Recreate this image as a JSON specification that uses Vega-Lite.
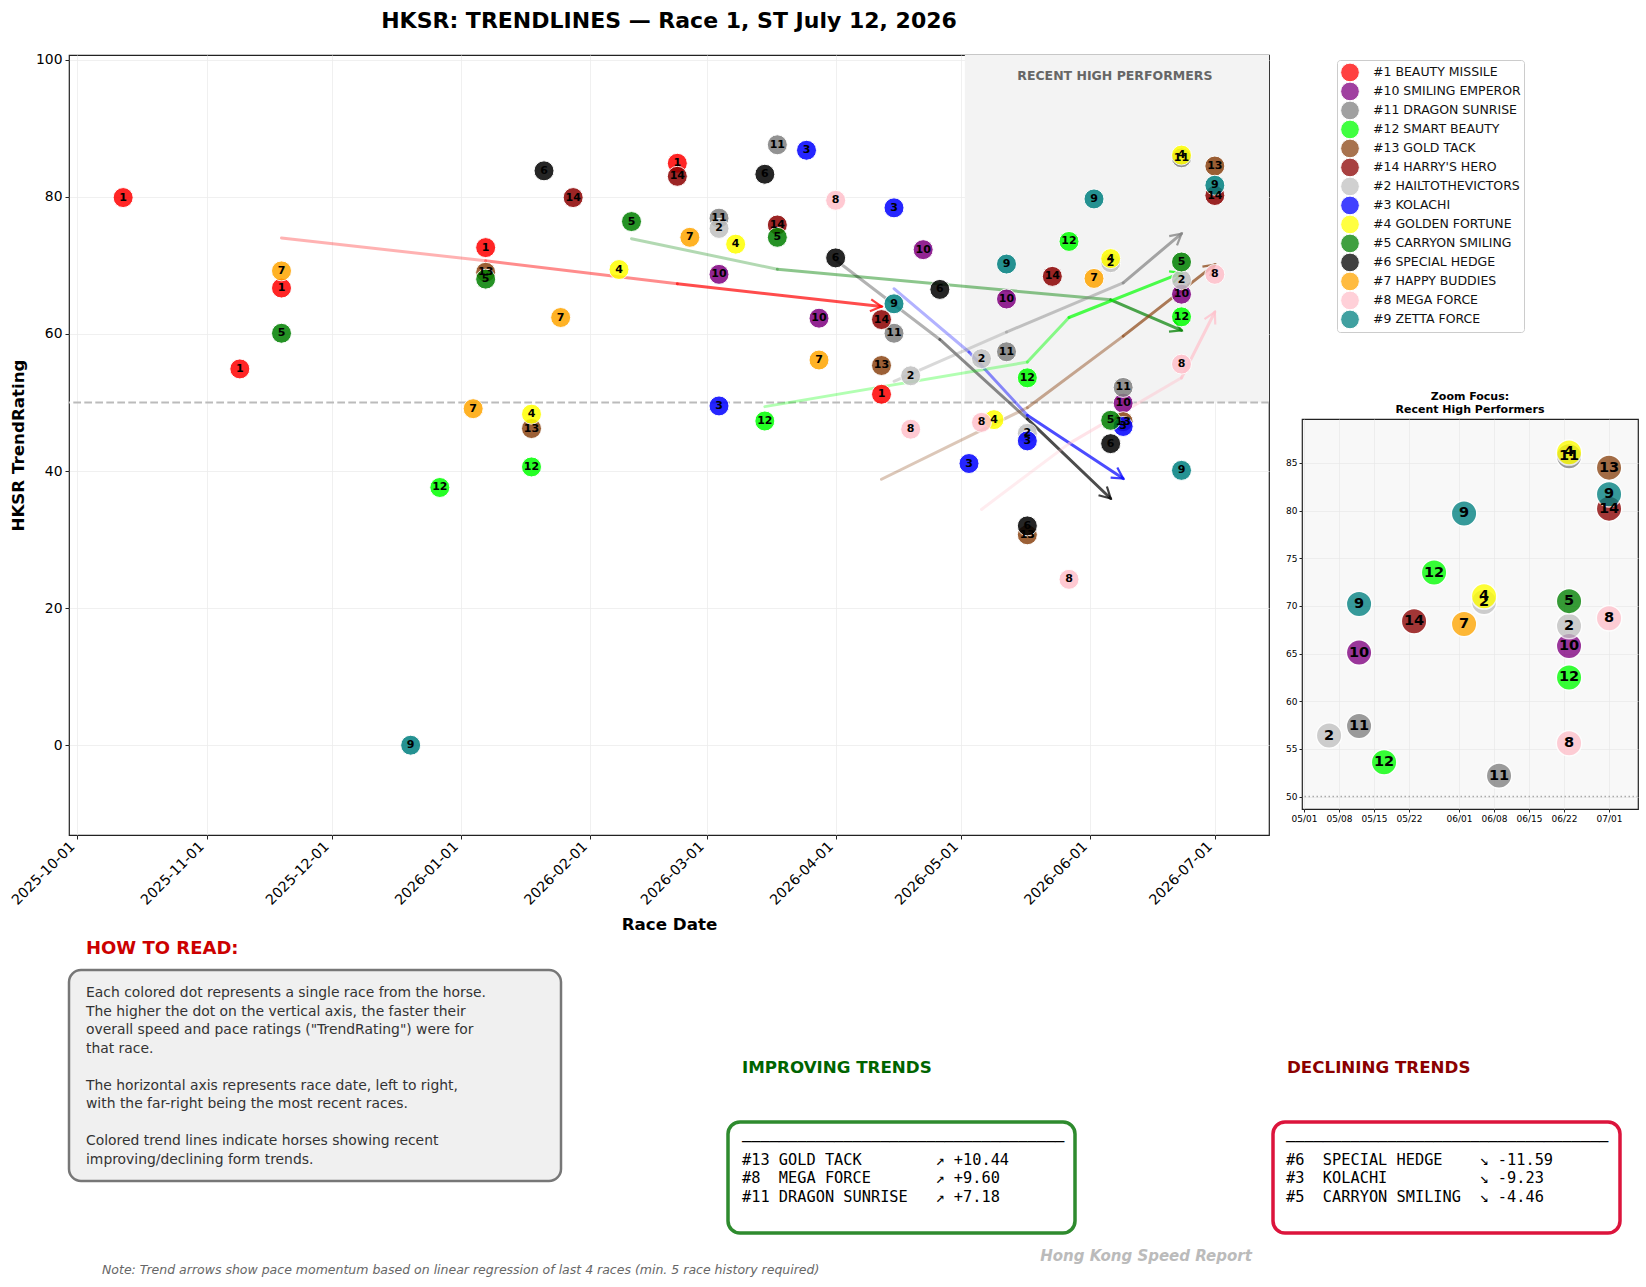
{
  "$schema": "https://vega.github.io/schema/vega-lite/v6.json",
  "background": "white",
  "padding": {"left": 8, "top": 9, "right": 0, "bottom": 0},
  "config": {
    "font": "DejaVu Sans",
    "view": {"stroke": null},
    "axis": {"labelColor": "#000", "tickColor": "#222", "domain": false, "titleColor": "#000"},
    "title": {"color": "#000"}
  },
  "datasets": {
    "races": [
      {"horse": "#1 BEAUTY MISSILE", "num": "1", "date": "2025-10-12", "rating": 79.9},
      {"horse": "#1 BEAUTY MISSILE", "num": "1", "date": "2025-11-09", "rating": 54.9},
      {"horse": "#1 BEAUTY MISSILE", "num": "1", "date": "2025-11-19", "rating": 66.7},
      {"horse": "#1 BEAUTY MISSILE", "num": "1", "date": "2026-01-07", "rating": 72.6},
      {"horse": "#1 BEAUTY MISSILE", "num": "1", "date": "2026-02-22", "rating": 84.9},
      {"horse": "#1 BEAUTY MISSILE", "num": "1", "date": "2026-04-12", "rating": 51.2},
      {"horse": "#10 SMILING EMPEROR", "num": "10", "date": "2026-03-04", "rating": 68.7},
      {"horse": "#10 SMILING EMPEROR", "num": "10", "date": "2026-03-28", "rating": 62.3},
      {"horse": "#10 SMILING EMPEROR", "num": "10", "date": "2026-04-22", "rating": 72.3},
      {"horse": "#10 SMILING EMPEROR", "num": "10", "date": "2026-05-12", "rating": 65.1},
      {"horse": "#10 SMILING EMPEROR", "num": "10", "date": "2026-06-09", "rating": 49.9},
      {"horse": "#10 SMILING EMPEROR", "num": "10", "date": "2026-06-23", "rating": 65.8},
      {"horse": "#11 DRAGON SUNRISE", "num": "11", "date": "2026-03-04", "rating": 76.9},
      {"horse": "#11 DRAGON SUNRISE", "num": "11", "date": "2026-03-18", "rating": 87.6},
      {"horse": "#11 DRAGON SUNRISE", "num": "11", "date": "2026-04-15", "rating": 60.1},
      {"horse": "#11 DRAGON SUNRISE", "num": "11", "date": "2026-05-12", "rating": 57.4},
      {"horse": "#11 DRAGON SUNRISE", "num": "11", "date": "2026-06-09", "rating": 52.2},
      {"horse": "#11 DRAGON SUNRISE", "num": "11", "date": "2026-06-23", "rating": 85.7},
      {"horse": "#12 SMART BEAUTY", "num": "12", "date": "2025-12-27", "rating": 37.6},
      {"horse": "#12 SMART BEAUTY", "num": "12", "date": "2026-01-18", "rating": 40.6},
      {"horse": "#12 SMART BEAUTY", "num": "12", "date": "2026-03-15", "rating": 47.3},
      {"horse": "#12 SMART BEAUTY", "num": "12", "date": "2026-05-17", "rating": 53.6},
      {"horse": "#12 SMART BEAUTY", "num": "12", "date": "2026-05-27", "rating": 73.5},
      {"horse": "#12 SMART BEAUTY", "num": "12", "date": "2026-06-23", "rating": 62.5},
      {"horse": "#13 GOLD TACK", "num": "13", "date": "2026-01-07", "rating": 69.0},
      {"horse": "#13 GOLD TACK", "num": "13", "date": "2026-01-18", "rating": 46.2},
      {"horse": "#13 GOLD TACK", "num": "13", "date": "2026-04-12", "rating": 55.4},
      {"horse": "#13 GOLD TACK", "num": "13", "date": "2026-05-17", "rating": 30.7},
      {"horse": "#13 GOLD TACK", "num": "13", "date": "2026-06-09", "rating": 47.2},
      {"horse": "#13 GOLD TACK", "num": "13", "date": "2026-07-01", "rating": 84.5},
      {"horse": "#14 HARRY'S HERO", "num": "14", "date": "2026-01-28", "rating": 79.9},
      {"horse": "#14 HARRY'S HERO", "num": "14", "date": "2026-02-22", "rating": 83.0},
      {"horse": "#14 HARRY'S HERO", "num": "14", "date": "2026-03-18", "rating": 75.9},
      {"horse": "#14 HARRY'S HERO", "num": "14", "date": "2026-04-12", "rating": 62.1},
      {"horse": "#14 HARRY'S HERO", "num": "14", "date": "2026-05-23", "rating": 68.4},
      {"horse": "#14 HARRY'S HERO", "num": "14", "date": "2026-07-01", "rating": 80.2},
      {"horse": "#2 HAILTOTHEVICTORS", "num": "2", "date": "2026-03-04", "rating": 75.4},
      {"horse": "#2 HAILTOTHEVICTORS", "num": "2", "date": "2026-04-19", "rating": 53.9},
      {"horse": "#2 HAILTOTHEVICTORS", "num": "2", "date": "2026-05-06", "rating": 56.4},
      {"horse": "#2 HAILTOTHEVICTORS", "num": "2", "date": "2026-05-17", "rating": 45.5},
      {"horse": "#2 HAILTOTHEVICTORS", "num": "2", "date": "2026-06-06", "rating": 70.4},
      {"horse": "#2 HAILTOTHEVICTORS", "num": "2", "date": "2026-06-23", "rating": 67.9},
      {"horse": "#3 KOLACHI", "num": "3", "date": "2026-03-04", "rating": 49.5},
      {"horse": "#3 KOLACHI", "num": "3", "date": "2026-03-25", "rating": 86.8},
      {"horse": "#3 KOLACHI", "num": "3", "date": "2026-04-15", "rating": 78.4},
      {"horse": "#3 KOLACHI", "num": "3", "date": "2026-05-03", "rating": 41.1},
      {"horse": "#3 KOLACHI", "num": "3", "date": "2026-05-17", "rating": 44.4},
      {"horse": "#3 KOLACHI", "num": "3", "date": "2026-06-09", "rating": 46.5},
      {"horse": "#4 GOLDEN FORTUNE", "num": "4", "date": "2026-01-18", "rating": 48.3},
      {"horse": "#4 GOLDEN FORTUNE", "num": "4", "date": "2026-02-08", "rating": 69.4},
      {"horse": "#4 GOLDEN FORTUNE", "num": "4", "date": "2026-03-08", "rating": 73.1},
      {"horse": "#4 GOLDEN FORTUNE", "num": "4", "date": "2026-05-09", "rating": 47.5},
      {"horse": "#4 GOLDEN FORTUNE", "num": "4", "date": "2026-06-06", "rating": 71.0},
      {"horse": "#4 GOLDEN FORTUNE", "num": "4", "date": "2026-06-23", "rating": 86.1},
      {"horse": "#5 CARRYON SMILING", "num": "5", "date": "2025-11-19", "rating": 60.1},
      {"horse": "#5 CARRYON SMILING", "num": "5", "date": "2026-01-07", "rating": 68.0},
      {"horse": "#5 CARRYON SMILING", "num": "5", "date": "2026-02-11", "rating": 76.4},
      {"horse": "#5 CARRYON SMILING", "num": "5", "date": "2026-03-18", "rating": 74.1},
      {"horse": "#5 CARRYON SMILING", "num": "5", "date": "2026-06-06", "rating": 47.4},
      {"horse": "#5 CARRYON SMILING", "num": "5", "date": "2026-06-23", "rating": 70.5},
      {"horse": "#6 SPECIAL HEDGE", "num": "6", "date": "2026-01-21", "rating": 83.8},
      {"horse": "#6 SPECIAL HEDGE", "num": "6", "date": "2026-03-15", "rating": 83.3},
      {"horse": "#6 SPECIAL HEDGE", "num": "6", "date": "2026-04-01", "rating": 71.1},
      {"horse": "#6 SPECIAL HEDGE", "num": "6", "date": "2026-04-26", "rating": 66.5},
      {"horse": "#6 SPECIAL HEDGE", "num": "6", "date": "2026-05-17", "rating": 32.0},
      {"horse": "#6 SPECIAL HEDGE", "num": "6", "date": "2026-06-06", "rating": 44.0},
      {"horse": "#7 HAPPY BUDDIES", "num": "7", "date": "2025-11-19", "rating": 69.2},
      {"horse": "#7 HAPPY BUDDIES", "num": "7", "date": "2026-01-04", "rating": 49.1},
      {"horse": "#7 HAPPY BUDDIES", "num": "7", "date": "2026-01-25", "rating": 62.4},
      {"horse": "#7 HAPPY BUDDIES", "num": "7", "date": "2026-02-25", "rating": 74.1},
      {"horse": "#7 HAPPY BUDDIES", "num": "7", "date": "2026-03-28", "rating": 56.2},
      {"horse": "#7 HAPPY BUDDIES", "num": "7", "date": "2026-06-02", "rating": 68.1},
      {"horse": "#8 MEGA FORCE", "num": "8", "date": "2026-04-01", "rating": 79.5},
      {"horse": "#8 MEGA FORCE", "num": "8", "date": "2026-04-19", "rating": 46.1},
      {"horse": "#8 MEGA FORCE", "num": "8", "date": "2026-05-06", "rating": 47.1},
      {"horse": "#8 MEGA FORCE", "num": "8", "date": "2026-05-27", "rating": 24.2},
      {"horse": "#8 MEGA FORCE", "num": "8", "date": "2026-06-23", "rating": 55.6},
      {"horse": "#8 MEGA FORCE", "num": "8", "date": "2026-07-01", "rating": 68.7},
      {"horse": "#9 ZETTA FORCE", "num": "9", "date": "2025-12-20", "rating": 0.0},
      {"horse": "#9 ZETTA FORCE", "num": "9", "date": "2026-04-15", "rating": 64.4},
      {"horse": "#9 ZETTA FORCE", "num": "9", "date": "2026-05-12", "rating": 70.2},
      {"horse": "#9 ZETTA FORCE", "num": "9", "date": "2026-06-02", "rating": 79.7},
      {"horse": "#9 ZETTA FORCE", "num": "9", "date": "2026-06-23", "rating": 40.1},
      {"horse": "#9 ZETTA FORCE", "num": "9", "date": "2026-07-01", "rating": 81.7}
    ],
    "trends": [
      {"horse": "#1 BEAUTY MISSILE", "seg": 1, "date": "2025-11-19", "rating": 74.0},
      {"horse": "#1 BEAUTY MISSILE", "seg": 1, "date": "2026-01-07", "rating": 70.67},
      {"horse": "#1 BEAUTY MISSILE", "seg": 2, "date": "2026-01-07", "rating": 70.67},
      {"horse": "#1 BEAUTY MISSILE", "seg": 2, "date": "2026-02-22", "rating": 67.33},
      {"horse": "#1 BEAUTY MISSILE", "seg": 3, "date": "2026-02-22", "rating": 67.33},
      {"horse": "#1 BEAUTY MISSILE", "seg": 3, "date": "2026-04-12", "rating": 64.0},
      {"horse": "#5 CARRYON SMILING", "seg": 1, "date": "2026-02-11", "rating": 73.9},
      {"horse": "#5 CARRYON SMILING", "seg": 1, "date": "2026-03-18", "rating": 69.44},
      {"horse": "#5 CARRYON SMILING", "seg": 2, "date": "2026-03-18", "rating": 69.44},
      {"horse": "#5 CARRYON SMILING", "seg": 2, "date": "2026-06-06", "rating": 64.98},
      {"horse": "#5 CARRYON SMILING", "seg": 3, "date": "2026-06-06", "rating": 64.98},
      {"horse": "#5 CARRYON SMILING", "seg": 3, "date": "2026-06-23", "rating": 60.52},
      {"horse": "#6 SPECIAL HEDGE", "seg": 1, "date": "2026-04-01", "rating": 70.8},
      {"horse": "#6 SPECIAL HEDGE", "seg": 1, "date": "2026-04-26", "rating": 59.2},
      {"horse": "#6 SPECIAL HEDGE", "seg": 2, "date": "2026-04-26", "rating": 59.2},
      {"horse": "#6 SPECIAL HEDGE", "seg": 2, "date": "2026-05-17", "rating": 47.6},
      {"horse": "#6 SPECIAL HEDGE", "seg": 3, "date": "2026-05-17", "rating": 47.6},
      {"horse": "#6 SPECIAL HEDGE", "seg": 3, "date": "2026-06-06", "rating": 36.0},
      {"horse": "#3 KOLACHI", "seg": 1, "date": "2026-04-15", "rating": 66.6},
      {"horse": "#3 KOLACHI", "seg": 1, "date": "2026-05-03", "rating": 57.37},
      {"horse": "#3 KOLACHI", "seg": 2, "date": "2026-05-03", "rating": 57.37},
      {"horse": "#3 KOLACHI", "seg": 2, "date": "2026-05-17", "rating": 48.14},
      {"horse": "#3 KOLACHI", "seg": 3, "date": "2026-05-17", "rating": 48.14},
      {"horse": "#3 KOLACHI", "seg": 3, "date": "2026-06-09", "rating": 38.9},
      {"horse": "#11 DRAGON SUNRISE", "seg": 1, "date": "2026-04-15", "rating": 53.1},
      {"horse": "#11 DRAGON SUNRISE", "seg": 1, "date": "2026-05-12", "rating": 60.28},
      {"horse": "#11 DRAGON SUNRISE", "seg": 2, "date": "2026-05-12", "rating": 60.28},
      {"horse": "#11 DRAGON SUNRISE", "seg": 2, "date": "2026-06-09", "rating": 67.46},
      {"horse": "#11 DRAGON SUNRISE", "seg": 3, "date": "2026-06-09", "rating": 67.46},
      {"horse": "#11 DRAGON SUNRISE", "seg": 3, "date": "2026-06-23", "rating": 74.64},
      {"horse": "#12 SMART BEAUTY", "seg": 1, "date": "2026-03-15", "rating": 49.4},
      {"horse": "#12 SMART BEAUTY", "seg": 1, "date": "2026-05-17", "rating": 55.9},
      {"horse": "#12 SMART BEAUTY", "seg": 2, "date": "2026-05-17", "rating": 55.9},
      {"horse": "#12 SMART BEAUTY", "seg": 2, "date": "2026-05-27", "rating": 62.4},
      {"horse": "#12 SMART BEAUTY", "seg": 3, "date": "2026-05-27", "rating": 62.4},
      {"horse": "#12 SMART BEAUTY", "seg": 3, "date": "2026-06-23", "rating": 68.9},
      {"horse": "#13 GOLD TACK", "seg": 1, "date": "2026-04-12", "rating": 38.8},
      {"horse": "#13 GOLD TACK", "seg": 1, "date": "2026-05-17", "rating": 49.24},
      {"horse": "#13 GOLD TACK", "seg": 2, "date": "2026-05-17", "rating": 49.24},
      {"horse": "#13 GOLD TACK", "seg": 2, "date": "2026-06-09", "rating": 59.68},
      {"horse": "#13 GOLD TACK", "seg": 3, "date": "2026-06-09", "rating": 59.68},
      {"horse": "#13 GOLD TACK", "seg": 3, "date": "2026-07-01", "rating": 70.12},
      {"horse": "#8 MEGA FORCE", "seg": 1, "date": "2026-05-06", "rating": 34.4},
      {"horse": "#8 MEGA FORCE", "seg": 1, "date": "2026-05-27", "rating": 44.0},
      {"horse": "#8 MEGA FORCE", "seg": 2, "date": "2026-05-27", "rating": 44.0},
      {"horse": "#8 MEGA FORCE", "seg": 2, "date": "2026-06-23", "rating": 53.6},
      {"horse": "#8 MEGA FORCE", "seg": 3, "date": "2026-06-23", "rating": 53.6},
      {"horse": "#8 MEGA FORCE", "seg": 3, "date": "2026-07-01", "rating": 63.2}
    ],
    "tips": [
      {"horse": "#1 BEAUTY MISSILE", "date": "2026-04-12", "rating": 64.0},
      {"horse": "#5 CARRYON SMILING", "date": "2026-06-23", "rating": 60.52},
      {"horse": "#6 SPECIAL HEDGE", "date": "2026-06-06", "rating": 36.0},
      {"horse": "#3 KOLACHI", "date": "2026-06-09", "rating": 38.9},
      {"horse": "#11 DRAGON SUNRISE", "date": "2026-06-23", "rating": 74.64},
      {"horse": "#12 SMART BEAUTY", "date": "2026-06-23", "rating": 68.9},
      {"horse": "#13 GOLD TACK", "date": "2026-07-01", "rating": 70.12},
      {"horse": "#8 MEGA FORCE", "date": "2026-07-01", "rating": 63.2}
    ]
  },
  "bounds": "flush",
  "spacing": 915,
  "resolve": {"scale": {"color": "independent"}, "legend": {"color": "independent"}},
  "vconcat": [
    {
      "bounds": "flush",
      "spacing": 33,
      "resolve": {"scale": {"color": "independent"}, "legend": {"color": "independent"}},
      "hconcat": [
        {
          "width": 1200,
          "height": 780,
          "title": {"text": "HKSR: TRENDLINES — Race 1, ST July 12, 2026", "fontSize": 22, "fontWeight": "bold", "anchor": "middle", "frame": "group", "offset": 20},
          "view": {"stroke": "#222", "strokeWidth": 1.2},
          "layer": [
            {
              "data": {"values": [{}]},
              "mark": {"type": "rect", "color": "#f3f3f3"},
              "encoding": {
                "x": {"datum": {"year": 2026, "month": 5, "date": 2, "utc": true}, "type": "temporal"},
                "x2": {"datum": {"year": 2026, "month": 7, "date": 14, "utc": true}},
                "y": {"datum": 50, "type": "quantitative"},
                "y2": {"datum": 100.7}
              }
            },
            {
              "data": {"values": [{}]},
              "mark": {"type": "text", "text": "RECENT HIGH PERFORMERS", "fontSize": 12.5, "fontWeight": "bold", "color": "#666666", "align": "center", "baseline": "middle"},
              "encoding": {
                "x": {"datum": {"year": 2026, "month": 6, "date": 7, "utc": true}, "type": "temporal"},
                "y": {"datum": 97.6, "type": "quantitative"}
              }
            },
            {
              "data": {"values": [{}]},
              "mark": {"type": "rule", "color": "#bbbbbb", "strokeDash": [7.7, 3.3], "strokeWidth": 1.8},
              "encoding": {"y": {"datum": 50, "type": "quantitative"}}
            },
            {
              "data": {"name": "trends"},
              "mark": {"type": "line", "strokeWidth": 3, "strokeCap": "round"},
              "encoding": {
                "x": {"field": "date", "type": "temporal"},
                "y": {"field": "rating", "type": "quantitative"},
                "stroke": {"field": "horse", "type": "nominal", "legend": null,
                  "scale": {
                    "domain": ["#1 BEAUTY MISSILE", "#10 SMILING EMPEROR", "#11 DRAGON SUNRISE", "#12 SMART BEAUTY", "#13 GOLD TACK", "#14 HARRY'S HERO", "#2 HAILTOTHEVICTORS", "#3 KOLACHI", "#4 GOLDEN FORTUNE", "#5 CARRYON SMILING", "#6 SPECIAL HEDGE", "#7 HAPPY BUDDIES", "#8 MEGA FORCE", "#9 ZETTA FORCE"],
                    "range": ["#ff0000", "#800080", "#808080", "#00ff00", "#8b4513", "#8b0000", "#c0c0c0", "#0000ff", "#ffff00", "#008000", "#000000", "#ffa500", "#ffc0cb", "#008080"]
                  }
                },
                "detail": {"field": "seg", "type": "nominal"},
                "opacity": {"field": "seg", "type": "ordinal", "scale": {"type": "ordinal", "domain": [1, 2, 3], "range": [0.3, 0.45, 0.7]}, "legend": null}
              }
            },
            {
              "data": {"name": "tips"},
              "mark": {"type": "point", "shape": "M-1,-0.55L0,0L-1,0.55", "filled": false, "strokeWidth": 2.2, "size": 484, "opacity": 0.75},
              "encoding": {
                "x": {"field": "date", "type": "temporal"},
                "y": {"field": "rating", "type": "quantitative"},
                "stroke": {"field": "horse", "type": "nominal", "legend": null},
                "angle": {"field": "horse", "type": "nominal", "legend": null, "scale": {"type": "ordinal", "domain": ["#1 BEAUTY MISSILE", "#5 CARRYON SMILING", "#6 SPECIAL HEDGE", "#3 KOLACHI", "#11 DRAGON SUNRISE", "#12 SMART BEAUTY", "#13 GOLD TACK", "#8 MEGA FORCE"], "range": [6.4, 23.4, 43.7, 33.4, 319.8, 338.4, 322, 296.8]}}
              }
            },
            {
              "data": {"name": "races"},
              "mark": {"type": "circle", "size": 400, "opacity": 0.85, "stroke": "white", "strokeWidth": 1},
              "encoding": {
                "x": {
                  "field": "date", "type": "temporal",
                  "scale": {"type": "utc", "domain": [{"year": 2025, "month": 9, "date": 29, "utc": true}, {"year": 2026, "month": 7, "date": 14, "utc": true}]},
                  "axis": {
                    "values": [
                      {"year": 2025, "month": 10, "date": 1, "utc": true},
                      {"year": 2025, "month": 11, "date": 1, "utc": true},
                      {"year": 2025, "month": 12, "date": 1, "utc": true},
                      {"year": 2026, "month": 1, "date": 1, "utc": true},
                      {"year": 2026, "month": 2, "date": 1, "utc": true},
                      {"year": 2026, "month": 3, "date": 1, "utc": true},
                      {"year": 2026, "month": 4, "date": 1, "utc": true},
                      {"year": 2026, "month": 5, "date": 1, "utc": true},
                      {"year": 2026, "month": 6, "date": 1, "utc": true},
                      {"year": 2026, "month": 7, "date": 1, "utc": true}
                    ],
                    "format": "%Y-%m-%d",
                    "labelAngle": -45, "labelAlign": "right", "labelBaseline": "bottom",
                    "labelFontSize": 14.2, "labelPadding": 10, "tickSize": 4,
                    "grid": true, "gridColor": "#ececec", "gridWidth": 0.8,
                    "title": "Race Date", "titleFontSize": 16.7, "titleFontWeight": "bold", "titlePadding": 9
                  }
                },
                "y": {
                  "field": "rating", "type": "quantitative",
                  "scale": {"domain": [-13.1, 100.7], "nice": false, "zero": false},
                  "axis": {
                    "values": [0, 20, 40, 60, 80, 100],
                    "labelFontSize": 13.9, "labelPadding": 3, "tickSize": 4,
                    "grid": true, "gridColor": "#ececec", "gridWidth": 0.8,
                    "title": "HKSR TrendRating", "titleFontSize": 16.7, "titleFontWeight": "bold", "titlePadding": 8
                  }
                },
                "color": {
                  "field": "horse", "type": "nominal",
                  "scale": {
                    "domain": ["#1 BEAUTY MISSILE", "#10 SMILING EMPEROR", "#11 DRAGON SUNRISE", "#12 SMART BEAUTY", "#13 GOLD TACK", "#14 HARRY'S HERO", "#2 HAILTOTHEVICTORS", "#3 KOLACHI", "#4 GOLDEN FORTUNE", "#5 CARRYON SMILING", "#6 SPECIAL HEDGE", "#7 HAPPY BUDDIES", "#8 MEGA FORCE", "#9 ZETTA FORCE"],
                    "range": ["#ff0000", "#800080", "#808080", "#00ff00", "#8b4513", "#8b0000", "#c0c0c0", "#0000ff", "#ffff00", "#008000", "#000000", "#ffa500", "#ffc0cb", "#008080"]
                  },
                  "legend": {
                    "orient": "none", "legendX": 1268, "legendY": 5, "title": null,
                    "labelFontSize": 12.5, "labelColor": "#111", "labelOffset": 13,
                    "symbolType": "circle", "symbolSize": 350, "symbolOpacity": 0.75, "symbolStrokeColor": "white", "symbolStrokeWidth": 1,
                    "clipHeight": 18.9,
                    "strokeColor": "#cccccc", "fillColor": "white", "padding": 3, "cornerRadius": 3, "rowPadding": 0
                  }
                }
              }
            },
            {
              "data": {"name": "races"},
              "mark": {"type": "text", "fontSize": 11, "fontWeight": "bold", "color": "black", "align": "center", "baseline": "middle"},
              "encoding": {
                "x": {"field": "date", "type": "temporal"},
                "y": {"field": "rating", "type": "quantitative"},
                "text": {"field": "num"}
              }
            }
          ]
        },
        {
          "bounds": "flush",
          "spacing": 20,
          "resolve": {"scale": {"color": "independent"}, "legend": {"color": "independent"}},
          "vconcat": [
            {"width": 336, "height": 344, "data": {"values": []}, "mark": "point", "encoding": {}},
            {
              "width": 336,
              "height": 390,
              "title": {"text": ["Zoom Focus:", "Recent High Performers"], "fontSize": 11, "fontWeight": "bold", "offset": 4, "lineHeight": 13, "anchor": "middle"},
              "view": {"fill": "#f8f8f8", "stroke": "#222", "strokeWidth": 1.2},
              "layer": [
                {
                  "data": {"values": [{}]},
                  "mark": {"type": "rule", "color": "#aaaaaa", "strokeDash": [1.5, 2.5], "strokeWidth": 1.5},
                  "encoding": {"y": {"datum": 50, "type": "quantitative"}}
                },
                {
                  "data": {"name": "races"},
                  "transform": [
                    {"filter": {"field": "rating", "gt": 50}},
                    {"filter": {"field": "date", "gte": {"year": 2026, "month": 5, "date": 1, "utc": true}}}
                  ],
                  "mark": {"type": "circle", "size": 650, "opacity": 0.78, "stroke": "white", "strokeWidth": 1.5},
                  "encoding": {
                    "x": {
                      "field": "date", "type": "temporal",
                      "scale": {"type": "utc", "domain": [{"year": 2026, "month": 4, "date": 30, "hours": 14, "utc": true}, {"year": 2026, "month": 7, "date": 6, "hours": 19, "utc": true}]},
                      "axis": {
                        "values": [
                          {"year": 2026, "month": 5, "date": 1, "utc": true},
                          {"year": 2026, "month": 5, "date": 8, "utc": true},
                          {"year": 2026, "month": 5, "date": 15, "utc": true},
                          {"year": 2026, "month": 5, "date": 22, "utc": true},
                          {"year": 2026, "month": 6, "date": 1, "utc": true},
                          {"year": 2026, "month": 6, "date": 8, "utc": true},
                          {"year": 2026, "month": 6, "date": 15, "utc": true},
                          {"year": 2026, "month": 6, "date": 22, "utc": true},
                          {"year": 2026, "month": 7, "date": 1, "utc": true}
                        ],
                        "format": "%m/%d", "labelAngle": 0, "labelFontSize": 9, "tickSize": 3, "labelPadding": 2,
                        "grid": true, "gridColor": "#e6e6e6", "gridWidth": 0.6, "title": null
                      }
                    },
                    "y": {
                      "field": "rating", "type": "quantitative",
                      "scale": {"domain": [48.7, 89.6], "nice": false, "zero": false},
                      "axis": {"values": [50, 55, 60, 65, 70, 75, 80, 85], "labelFontSize": 9, "tickSize": 3, "labelPadding": 2, "grid": true, "gridColor": "#e6e6e6", "gridWidth": 0.6, "title": null}
                    },
                    "color": {"field": "horse", "type": "nominal", "legend": null,
                      "scale": {
                        "domain": ["#1 BEAUTY MISSILE", "#10 SMILING EMPEROR", "#11 DRAGON SUNRISE", "#12 SMART BEAUTY", "#13 GOLD TACK", "#14 HARRY'S HERO", "#2 HAILTOTHEVICTORS", "#3 KOLACHI", "#4 GOLDEN FORTUNE", "#5 CARRYON SMILING", "#6 SPECIAL HEDGE", "#7 HAPPY BUDDIES", "#8 MEGA FORCE", "#9 ZETTA FORCE"],
                        "range": ["#ff0000", "#800080", "#808080", "#00ff00", "#8b4513", "#8b0000", "#c0c0c0", "#0000ff", "#ffff00", "#008000", "#000000", "#ffa500", "#ffc0cb", "#008080"]
                      }
                    }
                  }
                },
                {
                  "data": {"name": "races"},
                  "transform": [
                    {"filter": {"field": "rating", "gt": 50}},
                    {"filter": {"field": "date", "gte": {"year": 2026, "month": 5, "date": 1, "utc": true}}}
                  ],
                  "mark": {"type": "text", "fontSize": 14.5, "fontWeight": "bold", "color": "black", "align": "center", "baseline": "middle"},
                  "encoding": {
                    "x": {"field": "date", "type": "temporal"},
                    "y": {"field": "rating", "type": "quantitative"},
                    "text": {"field": "num"}
                  }
                }
              ]
            }
          ]
        }
      ]
    },
    {
      "bounds": "flush",
      "spacing": 167,
      "hconcat": [
        {
          "width": 492,
          "height": 211,
          "view": {"fill": "#f0f0f0", "stroke": "#777777", "strokeWidth": 2.5, "cornerRadius": 12},
          "title": {"text": "HOW TO READ:", "anchor": "start", "frame": "group", "color": "#cc0000", "fontSize": 18, "fontWeight": "bold", "offset": 12, "dx": 17},
          "data": {"values": [{}]},
          "layer": [
            {
              "mark": {
                "type": "text", "align": "left", "baseline": "top", "fontSize": 13.9, "lineHeight": 18.5, "color": "#333333", "x": 17, "y": 16,
                "text": [
                  "Each colored dot represents a single race from the horse.",
                  "The higher the dot on the vertical axis, the faster their",
                  "overall speed and pace ratings (\"TrendRating\") were for",
                  "that race.",
                  "\u200b",
                  "The horizontal axis represents race date, left to right,",
                  "with the far-right being the most recent races.",
                  "\u200b",
                  "Colored trend lines indicate horses showing recent",
                  "improving/declining form trends."
                ]
              },
              "encoding": {}
            },
            {
              "mark": {"type": "text", "align": "left", "baseline": "middle", "fontSize": 12.5, "fontStyle": "italic", "color": "#666666", "x": 33, "y": 300,
                "text": "Note: Trend arrows show pace momentum based on linear regression of last 4 races (min. 5 race history required)"},
              "encoding": {}
            }
          ]
        },
        {
          "bounds": "flush",
          "spacing": 0,
          "vconcat": [
            {"width": 10, "height": 151.5, "data": {"values": []}, "mark": "point", "encoding": {}},
            {
              "bounds": "flush",
              "spacing": 198,
              "hconcat": [
                {
                  "width": 347,
                  "height": 111,
                  "view": {"fill": "white", "stroke": "#2e8b2e", "strokeWidth": 3.5, "cornerRadius": 12},
                  "title": {"text": "IMPROVING TRENDS", "anchor": "start", "frame": "group", "color": "#006400", "fontSize": 16.7, "fontWeight": "bold", "offset": 45, "dx": 14},
                  "data": {"values": [{}]},
                  "layer": [
                    {
                      "mark": {
                        "type": "text", "align": "left", "baseline": "alphabetic", "font": "DejaVu Sans Mono", "fontSize": 15.3, "lineHeight": 18.2, "color": "black", "x": 14, "y": 25,
                        "text": [
                          "───────────────────────────────────",
                          "#13\u00a0GOLD\u00a0TACK\u00a0\u00a0\u00a0\u00a0\u00a0\u00a0\u00a0\u00a0↗\u00a0+10.44",
                          "#8\u00a0\u00a0MEGA\u00a0FORCE\u00a0\u00a0\u00a0\u00a0\u00a0\u00a0\u00a0↗\u00a0+9.60",
                          "#11\u00a0DRAGON\u00a0SUNRISE\u00a0\u00a0\u00a0↗\u00a0+7.18"
                        ]
                      },
                      "encoding": {}
                    },
                    {
                      "mark": {"type": "text", "align": "center", "baseline": "middle", "fontSize": 15, "fontWeight": "bold", "fontStyle": "italic", "color": "#bbbbbb", "x": 418, "y": 133.5,
                        "text": "Hong Kong Speed Report"},
                      "encoding": {}
                    }
                  ]
                },
                {
                  "width": 347,
                  "height": 111,
                  "view": {"fill": "white", "stroke": "#dc143c", "strokeWidth": 3.5, "cornerRadius": 12},
                  "title": {"text": "DECLINING TRENDS", "anchor": "start", "frame": "group", "color": "#8b0000", "fontSize": 16.7, "fontWeight": "bold", "offset": 45, "dx": 14},
                  "data": {"values": [{}]},
                  "mark": {
                    "type": "text", "align": "left", "baseline": "alphabetic", "font": "DejaVu Sans Mono", "fontSize": 15.3, "lineHeight": 18.2, "color": "black", "x": 13, "y": 25,
                    "text": [
                      "───────────────────────────────────",
                      "#6\u00a0\u00a0SPECIAL\u00a0HEDGE\u00a0\u00a0\u00a0\u00a0↘\u00a0-11.59",
                      "#3\u00a0\u00a0KOLACHI\u00a0\u00a0\u00a0\u00a0\u00a0\u00a0\u00a0\u00a0\u00a0\u00a0↘\u00a0-9.23",
                      "#5\u00a0\u00a0CARRYON\u00a0SMILING\u00a0\u00a0↘\u00a0-4.46"
                    ]
                  },
                  "encoding": {}
                }
              ]
            }
          ]
        }
      ]
    }
  ]
}
